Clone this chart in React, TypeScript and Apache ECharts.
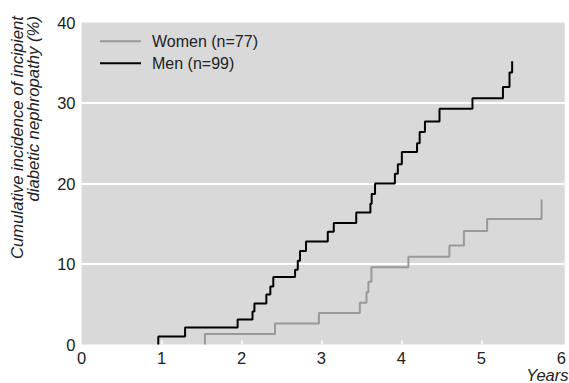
import React, { useEffect, useRef } from "react";
import * as echarts from "echarts";

// Kaplan–Meier style cumulative incidence (%), event times in years
const menTimes = [0.96, 1.295, 1.952, 2.138, 2.162, 2.311, 2.361, 2.398, 2.67, 2.704, 2.732, 2.807, 3.079, 3.154, 3.435, 3.612, 3.628, 3.67, 3.918, 3.955, 4.005, 4.195, 4.228, 4.294, 4.476, 4.888, 5.269, 5.351, 5.384];
const menValues = [1.0, 2.1, 3.1, 4.1, 5.1, 6.2, 7.2, 8.4, 9.3, 10.4, 11.6, 12.8, 14.0, 15.1, 16.4, 17.5, 18.7, 20.0, 21.2, 22.4, 23.9, 25.0, 26.4, 27.7, 29.3, 30.6, 32.0, 33.8, 35.2];

const womenTimes = [1.543, 2.419, 2.968, 3.48, 3.563, 3.587, 3.625, 4.087, 4.6, 4.781, 5.071, 5.752];
const womenValues = [1.3, 2.6, 3.9, 5.2, 6.5, 7.8, 9.6, 10.9, 12.3, 14.1, 15.6, 18.0];

const xTickValues = [0, 1, 2, 3, 4, 5, 6];
const xInnerTicks = [1, 2, 3, 4, 5];
const yTicks = [0, 10, 20, 30, 40];

const seriesNames = ["Women (n=77)", "Men (n=99)"];
const yTitle = "Cumulative incidence of incipient\ndiabetic nephropathy (%)";
const xTitle = "Years";

const FONT = "'Liberation Sans', Arial, sans-serif";

function toSteps(times: number[], values: number[]): number[][] {
  const pts: number[][] = [[times[0], 0]];
  times.forEach((t, i) => pts.push([t, values[i]]));
  return pts;
}

export default function App() {
  const ref = useRef<HTMLDivElement>(null);
  useEffect(() => {
    if (!ref.current) return;
    const chart = echarts.init(ref.current, undefined, { renderer: "svg" });
    chart.setOption({
      animation: false,
      backgroundColor: "#ffffff",
      grid: {
        left: 81.5,
        right: 0,
        top: 22.5,
        bottom: 38.5,
        show: true,
        backgroundColor: "#d9d9d9",
        borderWidth: 0,
      },
      legend: {
        orient: "vertical",
        left: 100,
        top: 33.3,
        padding: 0,
        icon: "rect",
        itemWidth: 41,
        itemHeight: 2,
        itemGap: 6,
        data: seriesNames,
        textStyle: {
          fontFamily: FONT,
          fontSize: 16,
          lineHeight: 14,
          color: "#222",
          padding: [0, 0, 0, 6],
        },
      },
      xAxis: {
        type: "value",
        min: 0,
        max: (569 - 81.5) / 80.7,
        axisLine: { show: false },
        splitLine: { show: false },
        axisTick: {
          show: true,
          inside: true,
          length: 4,
          customValues: xInnerTicks,
          lineStyle: { color: "#ffffff", width: 1.5 },
        },
        axisLabel: {
          customValues: xTickValues,
          margin: 5,
          fontFamily: FONT,
          fontSize: 16.5,
          color: "#222",
        },
      },
      yAxis: {
        type: "value",
        min: yTicks[0],
        max: yTicks[yTicks.length - 1],
        interval: 10,
        axisLine: { show: false },
        axisTick: { show: false },
        splitLine: {
          show: true,
          showMinLine: false,
          showMaxLine: false,
          lineStyle: { color: "#ffffff", width: 2 },
        },
        axisLabel: {
          margin: 6,
          fontFamily: FONT,
          fontSize: 16.5,
          color: "#222",
        },
      },
      graphic: [
        {
          type: "text",
          x: 9,
          y: 16,
          rotation: Math.PI / 2,
          style: {
            text: yTitle,
            align: "right",
            verticalAlign: "top",
            fontFamily: FONT,
            fontSize: 16.7,
            fontStyle: "italic",
            lineHeight: 16.5,
            fill: "#222",
          },
        },
        {
          type: "text",
          x: 568.5,
          y: 366.5,
          style: {
            text: xTitle,
            align: "right",
            verticalAlign: "top",
            fontFamily: FONT,
            fontSize: 16.5,
            fontStyle: "italic",
            fill: "#222",
          },
        },
      ],
      series: [
        {
          name: seriesNames[0],
          type: "line",
          step: "end",
          symbol: "none",
          data: toSteps(womenTimes, womenValues),
          lineStyle: { color: "#999999", width: 2 },
          itemStyle: { color: "#999999" },
        },
        {
          name: seriesNames[1],
          type: "line",
          step: "end",
          symbol: "none",
          data: toSteps(menTimes, menValues),
          lineStyle: { color: "#000000", width: 2 },
          itemStyle: { color: "#000000" },
        },
      ],
    });
    return () => chart.dispose();
  }, []);
  return (
    <div
      ref={ref}
      style={{ position: "fixed", left: 0, top: 0, width: 569, height: 383 }}
    />
  );
}
